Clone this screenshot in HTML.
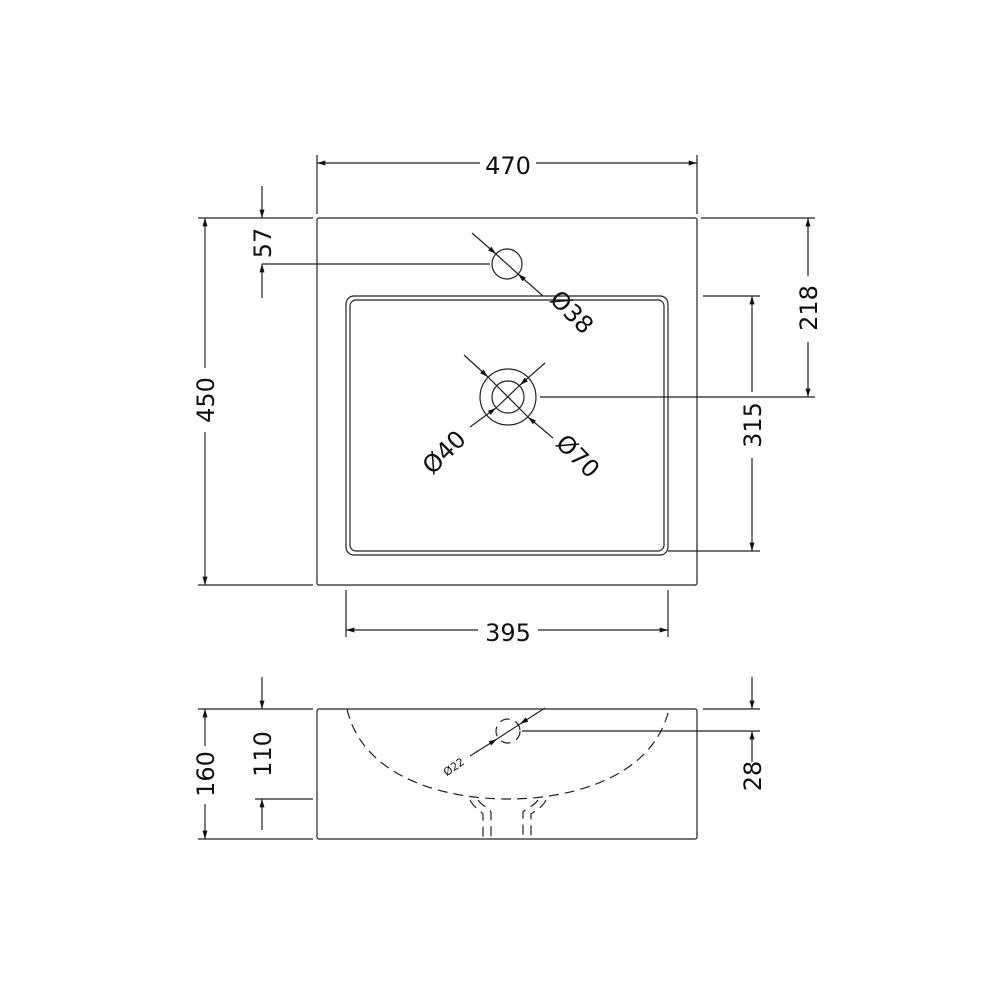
<!DOCTYPE html>
<html><head><style>body{margin:0;background:#fff}svg{display:block}text{font-family:"DejaVu Sans","Liberation Sans",sans-serif;fill:#111}</style></head>
<body>
<svg width="1000" height="1000" viewBox="0 0 1000 1000" xmlns="http://www.w3.org/2000/svg">
<defs>
<marker id="a" viewBox="0 0 10 6" refX="10" refY="3" markerWidth="12" markerHeight="5" markerUnits="userSpaceOnUse" orient="auto"><path d="M0,0L10,3L0,6z" fill="#111"/></marker>
</defs>
<g stroke="#222" stroke-width="1.2" fill="none">
<rect x="317" y="218" width="380" height="367" rx="2"/>
<rect x="346" y="296" width="322" height="259" rx="8"/>
<rect x="350" y="300" width="314" height="251" rx="6"/>
<circle cx="507" cy="264" r="15"/>
<circle cx="508" cy="397" r="28"/>
<circle cx="508" cy="397" r="16"/>
<line x1="317" y1="155" x2="317" y2="214"/><line x1="697" y1="155" x2="697" y2="214"/>
<line x1="480" y1="163" x2="317" y2="163" marker-end="url(#a)"/>
<line x1="536" y1="163" x2="697" y2="163" marker-end="url(#a)"/>
<line x1="198" y1="218" x2="313" y2="218"/><line x1="198" y1="585" x2="313" y2="585"/>
<line x1="205" y1="368" x2="205" y2="218" marker-end="url(#a)"/>
<line x1="205" y1="432" x2="205" y2="585" marker-end="url(#a)"/>
<line x1="262" y1="186" x2="262" y2="218" marker-end="url(#a)"/>
<line x1="262" y1="298" x2="262" y2="264" marker-end="url(#a)"/>
<line x1="262" y1="264" x2="490" y2="264"/>
<line x1="472" y1="233" x2="496" y2="254" marker-end="url(#a)"/>
<line x1="543" y1="296" x2="518" y2="274" marker-end="url(#a)"/>
<line x1="496" y1="254" x2="518" y2="274"/>
<line x1="464" y1="355" x2="488" y2="377" marker-end="url(#a)"/>
<line x1="553" y1="438" x2="528" y2="417" marker-end="url(#a)"/>
<line x1="488" y1="377" x2="528" y2="417"/>
<line x1="545" y1="363" x2="520" y2="385" marker-end="url(#a)"/>
<line x1="470" y1="427" x2="496" y2="408" marker-end="url(#a)"/>
<line x1="496" y1="408" x2="520" y2="385"/>
<line x1="540" y1="397" x2="815" y2="397"/>
<line x1="701" y1="218" x2="815" y2="218"/>
<line x1="808" y1="276" x2="808" y2="218" marker-end="url(#a)"/>
<line x1="808" y1="342" x2="808" y2="397" marker-end="url(#a)"/>
<line x1="703" y1="296" x2="760" y2="296"/><line x1="668" y1="551" x2="760" y2="551"/>
<line x1="752" y1="392" x2="752" y2="296" marker-end="url(#a)"/>
<line x1="752" y1="458" x2="752" y2="551" marker-end="url(#a)"/>
<line x1="346" y1="590" x2="346" y2="637"/><line x1="668" y1="590" x2="668" y2="637"/>
<line x1="478" y1="630" x2="346" y2="630" marker-end="url(#a)"/>
<line x1="538" y1="630" x2="668" y2="630" marker-end="url(#a)"/>
<rect x="317" y="709" width="380" height="130" rx="2"/>
<line x1="198" y1="709" x2="313" y2="709"/><line x1="198" y1="839" x2="313" y2="839"/>
<line x1="205" y1="746" x2="205" y2="709" marker-end="url(#a)"/>
<line x1="205" y1="804" x2="205" y2="839" marker-end="url(#a)"/>
<line x1="262" y1="677" x2="262" y2="709" marker-end="url(#a)"/>
<line x1="262" y1="830" x2="262" y2="799" marker-end="url(#a)"/>
<line x1="255" y1="799" x2="313" y2="799"/>
<line x1="703" y1="709" x2="760" y2="709"/><line x1="522" y1="731" x2="760" y2="731"/>
<line x1="752" y1="677" x2="752" y2="709" marker-end="url(#a)"/>
<line x1="752" y1="762" x2="752" y2="731" marker-end="url(#a)"/>
<g stroke-dasharray="10,6">
<path d="M347,709 C362,775 440,799 508,799 C576,799 654,775 669,709"/>
<circle cx="508" cy="731" r="12"/>
<path d="M470,800 C474,808 480,810 483,814 L483,839"/>
<path d="M478,800 C482,806 489,808 491,812 L491,839"/>
<path d="M546,800 C542,808 536,810 531,814 L531,839"/>
<path d="M538,800 C534,806 527,808 523,812 L523,839"/>
</g>
<line x1="545" y1="708" x2="520" y2="724" marker-end="url(#a)"/>
<line x1="470" y1="756" x2="497" y2="739" marker-end="url(#a)"/>
<line x1="497" y1="739" x2="520" y2="724"/>
</g>
<text x="508" y="174" font-size="24" text-anchor="middle">470</text>
<text x="508" y="641" font-size="24" text-anchor="middle">395</text>
<text transform="translate(214,400) rotate(-90)" font-size="24" text-anchor="middle">450</text>
<text transform="translate(271,243) rotate(-90)" font-size="24" text-anchor="middle">57</text>
<text transform="translate(817,308) rotate(-90)" font-size="24" text-anchor="middle">218</text>
<text transform="translate(761,425) rotate(-90)" font-size="24" text-anchor="middle">315</text>
<text transform="translate(214,774) rotate(-90)" font-size="24" text-anchor="middle">160</text>
<text transform="translate(271,754) rotate(-90)" font-size="24" text-anchor="middle">110</text>
<text transform="translate(761,776) rotate(-90)" font-size="24" text-anchor="middle">28</text>
<text transform="translate(566,318) rotate(45)" font-size="24" text-anchor="middle">Ø38</text>
<text transform="translate(572,462) rotate(45)" font-size="24" text-anchor="middle">Ø70</text>
<text transform="translate(450,458) rotate(-45)" font-size="24" text-anchor="middle">Ø40</text>
<text transform="translate(456,770) rotate(-35)" font-size="11" text-anchor="middle">Ø22</text>
</svg>
</body></html>
